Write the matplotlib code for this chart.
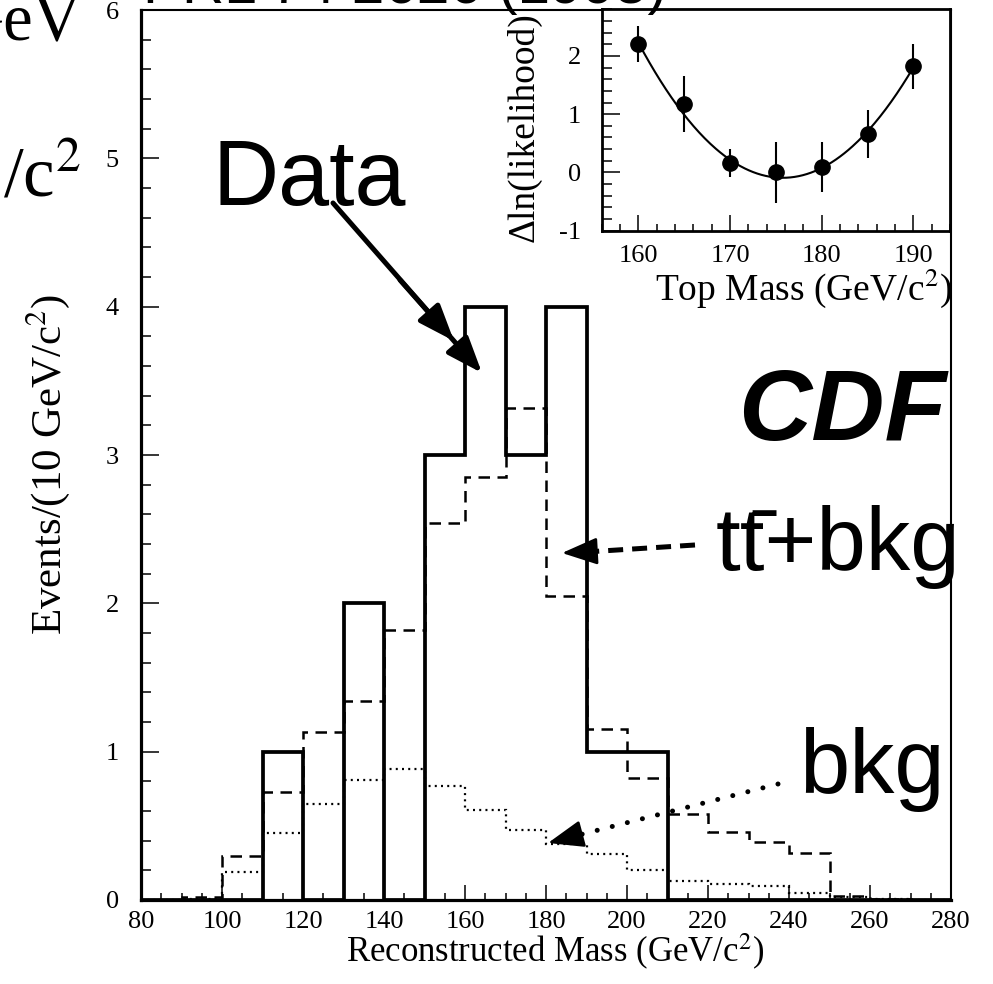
import numpy as np
import matplotlib
matplotlib.use("Agg")
import matplotlib.pyplot as plt
from matplotlib.ticker import MultipleLocator

plt.rcParams['font.family'] = ['Liberation Serif', 'DejaVu Serif']
plt.rcParams['mathtext.fontset'] = 'stix'
plt.rcParams['axes.unicode_minus'] = False

SANS = ['Liberation Sans', 'DejaVu Sans']

# ---- reconstructed-mass histograms, 10 GeV/c^2 bins from 80 to 280 ----
bin_edges = np.arange(80, 281, 10)
data_counts = [0, 0, 0, 1, 0, 2, 0, 3, 4, 3, 4, 1, 1, 0, 0, 0, 0, 0, 0, 0]
ttbar_plus_bkg = [0, 0.02, 0.30, 0.73, 1.13, 1.34, 1.82, 2.54, 2.85, 3.32,
                  2.05, 1.15, 0.82, 0.58, 0.46, 0.39, 0.32, 0.03, 0.01, 0]
bkg_only = [0, 0.01, 0.19, 0.45, 0.65, 0.81, 0.88, 0.77, 0.61, 0.47,
            0.38, 0.31, 0.20, 0.13, 0.11, 0.095, 0.05, 0.02, 0.01, 0]

# ---- likelihood scan versus top mass ----
top_mass = [160, 165, 170, 175, 180, 185, 190]
delta_lnL = [2.20, 1.18, 0.17, 0.00, 0.10, 0.66, 1.82]
delta_lnL_err = [0.31, 0.48, 0.24, 0.53, 0.43, 0.42, 0.39]

W, H = 993, 984
fig = plt.figure(figsize=(W / 100, H / 100), dpi=100)


def fx(px):
    return px / W


def fy(py):
    return 1 - py / H


ax = fig.add_axes([fx(141), fy(900), 810 / W, 890 / H])
ax.set_xlim(80, 280)
ax.set_ylim(0, 6)

ax.stairs(bkg_only, bin_edges, baseline=0, color='k', lw=1.6,
          linestyle=(0, (0.9, 1.9)), zorder=2)
ax.stairs(ttbar_plus_bkg, bin_edges, baseline=0, color='k', lw=1.8,
          linestyle=(0, (4.6, 3.0)), zorder=3)
ax.stairs(data_counts, bin_edges, baseline=0, color='k', lw=2.7, zorder=4)

ax.xaxis.set_major_locator(MultipleLocator(20))
ax.xaxis.set_minor_locator(MultipleLocator(5))
ax.yaxis.set_major_locator(MultipleLocator(1))
ax.yaxis.set_minor_locator(MultipleLocator(0.2))
ax.tick_params(axis='x', which='both', direction='in', top=False, labelsize=19,
               pad=8, width=1.1)
ax.tick_params(axis='x', which='major', length=10.5)
ax.tick_params(axis='x', which='minor', length=5)
ax.tick_params(axis='y', which='both', direction='in', right=False, labelsize=19,
               pad=16, width=1.1)
ax.tick_params(axis='y', which='major', length=13)
ax.tick_params(axis='y', which='minor', length=7)
for side, lw in (('left', 2.3), ('bottom', 2.3), ('top', 1.5), ('right', 1.5)):
    ax.spines[side].set_linewidth(lw)

ax.set_xlabel('Reconstructed Mass (GeV/c$^2$)', fontsize=25)
ax.xaxis.label.set_va('center')
ax.xaxis.set_label_coords(0.511, -0.058)
ax.set_ylabel('Events/(10 GeV/c$^2$)', fontsize=31)
ax.yaxis.label.set(rotation_mode='default', va='center', ha='center')
ax.yaxis.set_label_coords(-0.115, 0.49)

# ---- annotations ----
fig.text(fx(212), fy(205), 'Data', family=SANS, fontsize=66, va='baseline')
fig.text(fx(738), fy(440), 'CDF', family=SANS, fontsize=73, weight='bold',
         style='italic', va='baseline')
fig.text(fx(716), fy(570), 't' + 't\u0304' + '+bkg', family=SANS, fontsize=64,
         va='baseline')
fig.text(fx(799), fy(793), 'bkg', family=SANS, fontsize=65, va='baseline')


def to_data(px, py):
    return (80 + (px - 141) / 4.05, (900 - py) / 148.33)


tri = '-|>,head_length=1.1,head_width=0.42'

# Data arrow: solid shaft with a double head
ax.annotate('', xy=to_data(482, 373), xytext=to_data(333, 203),
            arrowprops=dict(arrowstyle=tri, lw=3.6, color='k',
                            shrinkA=0, shrinkB=0, mutation_scale=20), zorder=6)
ax.annotate('', xy=to_data(454, 341), xytext=to_data(400, 280),
            arrowprops=dict(arrowstyle=tri, lw=3.6, color='k',
                            shrinkA=0, shrinkB=0, mutation_scale=20), zorder=6)

# ttbar+bkg arrow: dashed shaft
sx, sy = to_data(695, 545)
ex, ey = to_data(586, 552)
ax.plot([sx, ex], [sy, ey], color='k', lw=3.6, linestyle=(0, (3.0, 1.8)),
        solid_capstyle='butt', zorder=6)
ax.annotate('', xy=to_data(562, 553), xytext=to_data(590, 551.5),
            arrowprops=dict(arrowstyle=tri, lw=2.0, color='k',
                            shrinkA=0, shrinkB=0, mutation_scale=20), zorder=6)

# bkg arrow: dotted shaft
sx, sy = to_data(778, 784)
ex, ey = to_data(575, 836)
ax.plot([sx, ex], [sy, ey], color='k', lw=3.6, linestyle=(0, (0.01, 3.1)),
        dash_capstyle='round', zorder=6)
ax.annotate('', xy=to_data(548, 843), xytext=to_data(578, 835),
            arrowprops=dict(arrowstyle=tri, lw=2.0, color='k',
                            shrinkA=0, shrinkB=0, mutation_scale=20), zorder=6)

# ---- inset: likelihood versus top mass ----
axi = fig.add_axes([fx(601.7), fy(230.7), 348.3 / W, 221.4 / H])
axi.set_facecolor('white')
axi.set_xlim(156, 194)
axi.set_ylim(-1, 2.8)
axi.errorbar(top_mass, delta_lnL, yerr=delta_lnL_err, fmt='o', ms=11,
             color='k', elinewidth=1.5, capsize=0, zorder=3)
coef = np.polyfit(top_mass, delta_lnL, 2, w=1 / np.asarray(delta_lnL_err))
m_fine = np.linspace(min(top_mass), max(top_mass), 200)
axi.plot(m_fine, np.polyval(coef, m_fine), color='k', lw=1.5, zorder=2)

axi.xaxis.set_major_locator(MultipleLocator(10))
axi.xaxis.set_minor_locator(MultipleLocator(2))
axi.yaxis.set_major_locator(MultipleLocator(1))
axi.yaxis.set_minor_locator(MultipleLocator(0.2))
axi.tick_params(axis='x', which='both', direction='in', top=False, labelsize=19,
                pad=10, width=1.1)
axi.tick_params(axis='x', which='major', length=11.5)
axi.tick_params(axis='x', which='minor', length=5)
axi.tick_params(axis='y', which='both', direction='in', right=False, labelsize=19,
                pad=15, width=1.1)
axi.tick_params(axis='y', which='major', length=13)
axi.tick_params(axis='y', which='minor', length=7)
for side in axi.spines:
    axi.spines[side].set_linewidth(2.0)

axi.set_xlabel('Top Mass (GeV/c$^2$)', fontsize=27)
axi.xaxis.label.set_va('center')
axi.xaxis.set_label_coords(0.58, -0.26)
axi.set_ylabel('\u0394ln(likelihood)', fontsize=27)
axi.yaxis.label.set(rotation_mode='default', va='center', ha='center')
axi.yaxis.set_label_coords(-0.222, 0.47)

# ---- fragments of surrounding page text ----
fig.text(fx(143), fy(3), 'PRL 74 2626 (1995)', family=SANS, fontsize=42,
         va='baseline')
fig.text(fx(81), fy(40), 'GeV', fontsize=48, ha='right', va='baseline')
fig.text(fx(81), fy(197), '/c$^2$', fontsize=51, ha='right', va='baseline')

fig.savefig('out.png', dpi=100)
